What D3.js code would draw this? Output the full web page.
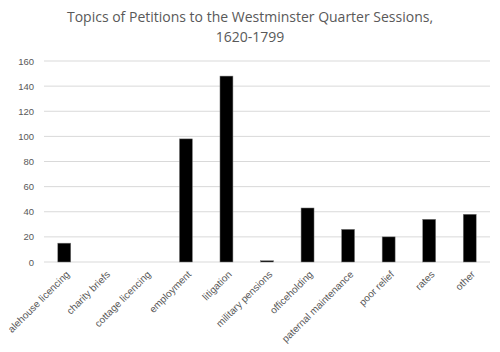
<!DOCTYPE html>
<html>
<head>
<meta charset="utf-8">
<script src="https://cdn.jsdelivr.net/npm/d3@7"></script>
<style>
  body { margin: 0; background: #fff; }
  svg { font-family: "Open Sans", sans-serif; }
  .tick text { fill: #595959; }
</style>
</head>
<body>
<div id="chart"></div>
<script>
const categories = ['alehouse licencing', 'charity briefs', 'cottage licencing', 'employment',
  'litigation', 'military pensions', 'officeholding', 'paternal maintenance',
  'poor relief', 'rates', 'other'];
const counts = [15, 0, 0, 98, 148, 1, 43, 26, 20, 34, 38];
const yTicks = [0, 20, 40, 60, 80, 100, 120, 140, 160];
const titleLines = ['Topics of Petitions to the Westminster Quarter Sessions,', '1620-1799'];

const width = 500, height = 352;
const margin = {top: 61, right: 10, bottom: 90, left: 44};
const innerW = width - margin.left - margin.right;
const innerH = height - margin.top - margin.bottom;

const svg = d3.select('#chart').append('svg')
  .attr('width', width)
  .attr('height', height);

// title
svg.append('text')
  .attr('x', width / 2)
  .attr('y', 22)
  .attr('text-anchor', 'middle')
  .style('font-size', '14px')
  .style('fill', '#595959')
  .selectAll('tspan')
  .data(titleLines)
  .join('tspan')
  .attr('x', width / 2)
  .attr('dy', (d, i) => i === 0 ? 0 : 20)
  .text(d => d);

const g = svg.append('g')
  .attr('transform', `translate(${margin.left},${margin.top})`);

const x = d3.scaleBand()
  .domain(categories)
  .range([0, innerW])
  .paddingInner(0.68)
  .paddingOuter(0.34);

const y = d3.scaleLinear()
  .domain([0, 160])
  .range([innerH, 0]);

// gridlines
g.append('g')
  .selectAll('line')
  .data(yTicks)
  .join('line')
  .attr('x1', 0)
  .attr('x2', innerW)
  .attr('y1', d => y(d))
  .attr('y2', d => y(d))
  .attr('stroke', '#d9d9d9')
  .attr('stroke-width', 1);

// y axis labels
const yAxis = d3.axisLeft(y).tickValues(yTicks).tickSize(0).tickPadding(10);
g.append('g')
  .call(yAxis)
  .call(a => a.select('.domain').remove())
  .selectAll('text')
  .style('font-size', '9.5px');

// bars
g.selectAll('.bar')
  .data(counts)
  .join('rect')
  .attr('class', 'bar')
  .attr('x', (d, i) => x(categories[i]))
  .attr('y', d => y(d))
  .attr('width', x.bandwidth())
  .attr('height', d => innerH - y(d))
  .attr('fill', '#000')
  .attr('stroke', '#7f7f7f')
  .attr('stroke-width', 0.5);

// x axis
const xAxis = d3.axisBottom(x).tickSize(0).tickPadding(0);
const xg = g.append('g')
  .attr('transform', `translate(0,${innerH})`)
  .call(xAxis);
xg.select('.domain').remove();
xg.selectAll('text')
  .style('font-size', '10px')
  .attr('text-anchor', 'end')
  .attr('dy', 0)
  .attr('transform', 'translate(6,13) rotate(-45)');
</script>
</body>
</html>
